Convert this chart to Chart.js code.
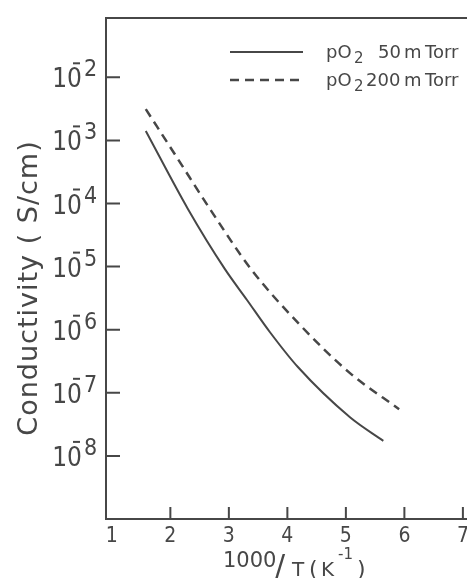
<!DOCTYPE html>
<html>
<head>
<meta charset="utf-8">
<title>Conductivity vs 1000/T</title>
<script src="https://cdn.jsdelivr.net/npm/chart.js@4.4.1/dist/chart.umd.min.js"></script>
<style>
  html, body { margin: 0; padding: 0; background: #fff; overflow: hidden; }
  #wrap { width: 467px; height: 578px; overflow: hidden; }
  canvas { display: block; }
</style>
</head>
<body>
<div id="wrap"><canvas id="chart" width="540" height="578"></canvas></div>
<script>
// 1000/T (K^-1) and conductivity (S/cm) for each oxygen pressure
const invT50    = [1.58, 2.30, 2.93, 3.31, 3.70, 4.18, 5.07, 5.64];
const sigma50   = [1.41e-3, 8.2e-5, 9.2e-6, 2.96e-6, 9.2e-7, 2.56e-7, 4.1e-8, 1.73e-8];
const invT200   = [1.58, 2.13, 2.68, 3.38, 4.22, 5.07, 5.91];
const sigma200  = [3.13e-3, 5.05e-4, 8.1e-5, 9.1e-6, 1.18e-6, 2.05e-7, 5.5e-8];

const xTicks    = [1, 2, 3, 4, 5, 6, 7];
const yExps     = [2, 3, 4, 5, 6, 7, 8];        // tick labels 10^-n
const legendRows = ['50 m Torr', '200 m Torr'];

const INK    = '#474747';
const NARROW = '"DejaVu Sans Condensed", "Liberation Sans Narrow", "DejaVu Sans", sans-serif';
const WIDE   = '"DejaVu Sans", "Liberation Sans", sans-serif';

function pts(xs, ys) {
    return xs.map(function (v, i) { return { x: v, y: ys[i] }; });
}

// axes, ticks, labels and legend drawn by hand in the old plotter style
const frame = {
    id: 'frame',
    beforeDatasetsDraw(chart) {
        const { ctx, chartArea: a, scales: { x, y } } = chart;
        ctx.save();
        ctx.strokeStyle = INK;
        ctx.fillStyle = INK;
        ctx.lineWidth = 2;
        ctx.lineCap = 'butt';

        ctx.beginPath();
        ctx.moveTo(a.right, a.top);
        ctx.lineTo(a.left, a.top);
        ctx.lineTo(a.left, a.bottom);
        ctx.lineTo(a.right, a.bottom);
        xTicks.forEach(function (v) {
            if (v === 1) return;
            const px = x.getPixelForValue(v);
            ctx.moveTo(px, a.bottom);
            ctx.lineTo(px, a.bottom - 12);
        });
        yExps.forEach(function (n) {
            const py = y.getPixelForValue(Math.pow(10, -n));
            ctx.moveTo(a.left, py);
            ctx.lineTo(a.left + 14, py);
        });
        ctx.stroke();

        // x tick labels
        ctx.font = '21px ' + NARROW;
        ctx.textAlign = 'center';
        ctx.textBaseline = 'alphabetic';
        xTicks.forEach(function (v) {
            ctx.fillText(String(v), x.getPixelForValue(v), 542);
        });

        // y tick labels: 10 with the minus bar over the zero and the power
        yExps.forEach(function (n) {
            const py = y.getPixelForValue(Math.pow(10, -n));
            ctx.font = '26px ' + NARROW;
            ctx.textAlign = 'right';
            ctx.fillText('10', 82, py + 10);
            ctx.beginPath();
            ctx.moveTo(73, py - 14);
            ctx.lineTo(80, py - 14);
            ctx.stroke();
            ctx.font = '23px ' + NARROW;
            ctx.textAlign = 'left';
            ctx.fillText(String(n), 84, py - 1);
        });

        // x title: 1000/T (K^-1)
        ctx.textAlign = 'left';
        ctx.font = '21px ' + WIDE;
        ctx.fillText('1000', 223, 567);
        ctx.font = '30px ' + WIDE;
        ctx.fillText('/', 275, 576);
        ctx.font = '20px ' + WIDE;
        ctx.fillText('T', 292, 576);
        ctx.fillText('K', 321, 576);
        ctx.font = '22px ' + WIDE;
        ctx.fillText('(', 309, 576);
        ctx.fillText(')', 357, 576);
        ctx.font = '15px ' + WIDE;
        ctx.fillText('-1', 338, 559);

        // y title
        ctx.save();
        ctx.translate(37, 288);
        ctx.rotate(-Math.PI / 2);
        ctx.font = '27px ' + WIDE;
        ctx.letterSpacing = '1px';
        ctx.textAlign = 'center';
        ctx.fillText('Conductivity ( S/cm)', 0, 0);
        ctx.restore();

        // legend
        const rowsY = [52, 80];
        chart.data.datasets.forEach(function (ds, i) {
            const ly = rowsY[i];
            ctx.beginPath();
            ctx.lineWidth = ds.borderWidth;
            ctx.setLineDash(ds.borderDash || []);
            ctx.moveTo(230, ly);
            ctx.lineTo(303, ly);
            ctx.stroke();
            ctx.setLineDash([]);
            ctx.textAlign = 'left';
            ctx.font = '18px ' + WIDE;
            ctx.fillText('pO', 326, ly + 6);
            ctx.font = '15px ' + WIDE;
            ctx.fillText('2', 354, ly + 11);
            ctx.font = '18px ' + WIDE;
            const parts = legendRows[i].split(' ');
            ctx.fillText(parts[0], i === 0 ? 378 : 366, ly + 6);
            ctx.fillText(parts[1], 404, ly + 6);
            ctx.fillText(parts[2], 425, ly + 6);
        });
        ctx.restore();
    }
};

new Chart(document.getElementById('chart'), {
    type: 'line',
    data: {
        datasets: [
            {
                label: 'pO2 ' + legendRows[0],
                data: pts(invT50, sigma50),
                borderColor: INK,
                borderWidth: 2,
                pointRadius: 0,
                cubicInterpolationMode: 'monotone',
                fill: false
            },
            {
                label: 'pO2 ' + legendRows[1],
                data: pts(invT200, sigma200),
                borderColor: INK,
                borderWidth: 2.5,
                borderDash: [9, 6],
                pointRadius: 0,
                cubicInterpolationMode: 'monotone',
                fill: false
            }
        ]
    },
    options: {
        responsive: false,
        animation: false,
        layout: { padding: { left: 106, top: 18, right: 18.6, bottom: 59 } },
        plugins: { legend: { display: false }, tooltip: { enabled: false } },
        scales: {
            x: { type: 'linear', min: 0.9, max: 8, display: false },
            y: { type: 'logarithmic', min: 1e-9, max: Math.pow(10, -1.06), display: false }
        }
    },
    plugins: [frame]
});
</script>
</body>
</html>
